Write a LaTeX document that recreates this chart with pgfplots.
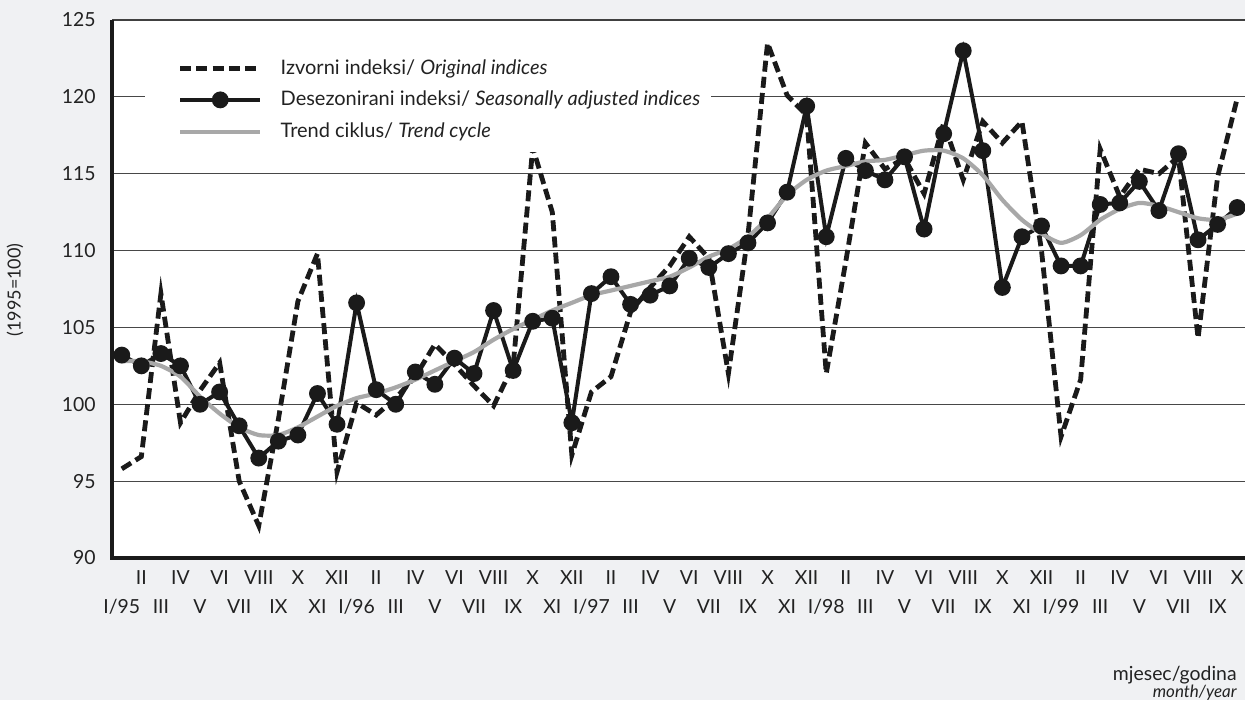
\documentclass[border=0pt]{standalone}
\usepackage{fontspec}
\setmainfont{Lato}
\usepackage{pgfplots}
\usepackage{pgfplotstable}
\pgfplotsset{compat=1.18}
\definecolor{bg}{HTML}{F0F1F3}
\definecolor{trend}{HTML}{A8A8A8}
\definecolor{ink}{HTML}{1A1A1A}
\definecolor{txt}{HTML}{222222}
\newcommand\lo[1]{\raisebox{-14.5pt}{#1}}

\pgfplotstableread{
i o s t
0 95.8 103.2 102.8
1 96.6 102.5 102.8
2 107.2 103.3 102.5
3 98.8 102.5 101.8
4 100.9 100.0 100.5
5 102.7 100.8 99.4
6 95.0 98.6 98.5
7 92.1 96.5 98.0
8 99.0 97.6 98.0
9 106.7 98.0 98.5
10 109.8 100.7 99.2
11 95.6 98.7 99.9
12 100.1 106.6 100.4
13 99.3 100.95 100.7
14 100.4 100.0 101.1
15 101.8 102.1 101.6
16 103.9 101.3 102.2
17 102.6 103.0 102.8
18 101.2 102.0 103.4
19 99.9 106.1 104.2
20 102.5 102.2 104.9
21 116.7 105.4 105.5
22 112.5 105.6 106.1
23 96.7 98.8 106.6
24 100.8 107.2 107.1
25 101.8 108.3 107.4
26 106.0 106.5 107.7
27 107.6 107.1 108.0
28 109.0 107.7 108.3
29 110.9 109.5 108.9
30 109.5 108.9 109.6
31 102.0 109.8 110.1
32 111.0 110.5 110.9
33 123.5 111.8 112.1
34 120.1 113.8 113.6
35 118.8 119.4 114.6
36 102.0 110.9 115.2
37 109.3 116.0 115.5
38 117.0 115.2 115.8
39 115.3 114.6 115.9
40 116.0 116.1 116.2
41 113.7 111.4 116.5
42 118.3 117.6 116.5
43 114.6 123.0 116.0
44 118.4 116.5 114.9
45 117.0 107.6 113.3
46 118.4 110.9 112.0
47 110.0 111.6 111.1
48 97.9 109.0 110.5
49 101.6 109.0 111.0
50 116.6 113.0 112.0
51 113.5 113.1 112.7
52 115.3 114.5 113.1
53 115.0 112.6 112.9
54 116.1 116.3 112.5
55 104.3 110.7 112.1
56 114.8 111.7 112.0
57 119.9 112.8 112.4
}\data

\begin{document}
\begin{tikzpicture}
\fill[bg] (0,0) rectangle (622.5pt,350pt);
\useasboundingbox (0,0) rectangle (622.5pt,350pt);
\begin{axis}[
  at={(56pt,71pt)}, anchor=south west,
  scale only axis, width=566.5pt, height=269pt,
  xmin=-0.5, xmax=57.4, ymin=90, ymax=125,
  ytick={90,95,...,125},
  xtick={0,...,57},
  xticklabels={\lo{I/95},II,\lo{III},IV,\lo{V},VI,\lo{VII},VIII,\lo{IX},X,\lo{XI},XII,
               \lo{I/96},II,\lo{III},IV,\lo{V},VI,\lo{VII},VIII,\lo{IX},X,\lo{XI},XII,
               \lo{I/97},II,\lo{III},IV,\lo{V},VI,\lo{VII},VIII,\lo{IX},X,\lo{XI},XII,
               \lo{I/98},II,\lo{III},IV,\lo{V},VI,\lo{VII},VIII,\lo{IX},X,\lo{XI},XII,
               \lo{I/99},II,\lo{III},IV,\lo{V},VI,\lo{VII},VIII,\lo{IX},X},
  xticklabel style={anchor=base, yshift=-13.25pt, font=\fontsize{9.7}{11}\selectfont, text=txt},
  yticklabel style={xshift=-4.7pt, font=\fontsize{9.7}{11}\selectfont, text=txt},
  /pgf/number format/assume math mode=true,
  axis background/.style={fill=white},
  axis line style={draw=none},
  ymajorgrids, grid style={line width=0.5pt, black!72},
  major tick length=0pt,
  legend cell align=left,
  legend style={font=\fontsize{10}{11.5}\selectfont, text=txt, fill=white, draw=none,
    at={(0.029,0.95)}, anchor=north west, inner xsep=3.3pt, inner ysep=4pt,
    row sep=3pt, /tikz/every odd column/.append style={column sep=7pt}},
  legend image code/.code={\path (-13pt,0pt);
    \draw[mark repeat=2,mark phase=2,#1] plot coordinates {(0pt,0pt) (20pt,0pt) (40pt,0pt)};},
  after end axis/.code={
    \draw[line width=0.6pt, black!75] (rel axis cs:0,1) -- (rel axis cs:1,1);
    \draw[line width=1.6pt, ink] (rel axis cs:0,1) -- (rel axis cs:0,0) -- (rel axis cs:1,0);
  },
]
\addplot[ink, line width=2.4pt, dash pattern=on 5.5pt off 2.6pt, no marks] table[x=i,y=o] {\data};
\addlegendentry{Izvorni indeksi/ \textit{Original indices}}
\addplot[ink, line width=2pt, mark=*, mark size=3.2pt, mark options={solid, fill=ink, draw=ink}] table[x=i,y=s] {\data};
\addlegendentry{Desezonirani indeksi/ \textit{Seasonally adjusted indices}}
\addplot[trend, line width=2.1pt, smooth, tension=0.4, no marks] table[x=i,y=t] {\data};
\addlegendentry{Trend ciklus/ \textit{Trend cycle}}
\end{axis}
\node[rotate=90, font=\fontsize{9}{10}\selectfont, text=txt] at (7.5pt,205pt) {(1995=100)};
\node[anchor=base east, font=\fontsize{9.7}{11}\selectfont, text=txt, inner sep=0pt] at (618.5pt,9.5pt) {mjesec/godina};
\node[anchor=base east, font=\fontsize{8.5}{10}\selectfont\itshape, text=txt, inner sep=0pt] at (618.5pt,1.5pt) {month/year};
\end{tikzpicture}
\end{document}
